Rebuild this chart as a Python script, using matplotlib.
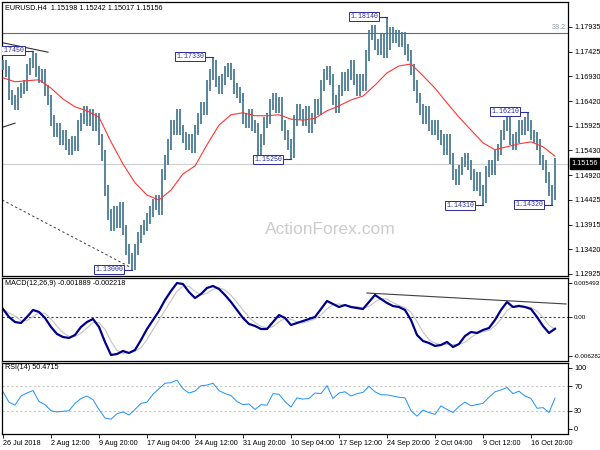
import numpy as np
import pandas as pd
import matplotlib
matplotlib.use('Agg')
import matplotlib.pyplot as plt
import matplotlib.transforms as mtransforms

plt.rcParams['font.family'] = ['Liberation Sans', 'DejaVu Sans']

## EURUSD H4 closes, one value per 2 bars
closes = [
    1.1716, 1.1702, 1.1655, 1.1645, 1.1635, 1.1661, 1.1669, 1.1675, 1.1706, 1.1720,
    1.1730, 1.1702, 1.1690, 1.1696, 1.1665, 1.1645, 1.1604, 1.1580, 1.1588, 1.1564,
    1.1574, 1.1554, 1.1544, 1.1560, 1.1552, 1.1594, 1.1608, 1.1621, 1.1604, 1.1615,
    1.1594, 1.1608, 1.1564, 1.1533, 1.1462, 1.1412, 1.1391, 1.1418, 1.1397, 1.1426,
    1.1381, 1.1341, 1.1324, 1.1310, 1.1341, 1.1365, 1.1381, 1.1391, 1.1405, 1.1418,
    1.1432, 1.1442, 1.1422, 1.1493, 1.1523, 1.1554, 1.1594, 1.1584, 1.1615, 1.1584,
    1.1568, 1.1554, 1.1564, 1.1548, 1.1584, 1.1608, 1.1629, 1.1625, 1.1675, 1.1696,
    1.1716, 1.1682, 1.1669, 1.1686, 1.1702, 1.1710, 1.1696, 1.1669, 1.1661, 1.1649,
    1.1608, 1.1600, 1.1615, 1.1594, 1.1588, 1.1544, 1.1564, 1.1600, 1.1608, 1.1635,
    1.1649, 1.1629, 1.1641, 1.1594, 1.1574, 1.1554, 1.1539, 1.1604, 1.1625, 1.1615,
    1.1604, 1.1621, 1.1588, 1.1608, 1.1635, 1.1625, 1.1675, 1.1696, 1.1702, 1.1686,
    1.1645, 1.1629, 1.1665, 1.1690, 1.1675, 1.1696, 1.1716, 1.1686, 1.1665, 1.1686,
    1.1675, 1.1736, 1.1777, 1.1787, 1.1757, 1.1747, 1.1767, 1.1742, 1.1757, 1.1783,
    1.1771, 1.1777, 1.1763, 1.1771, 1.1747, 1.1736, 1.1706, 1.1675, 1.1649, 1.1625,
    1.1608, 1.1621, 1.1594, 1.1584, 1.1594, 1.1574, 1.1564, 1.1544, 1.1564, 1.1527,
    1.1493, 1.1483, 1.1503, 1.1519, 1.1527, 1.1513, 1.1493, 1.1472, 1.1487, 1.1462,
    1.1446, 1.1499, 1.1513, 1.1503, 1.1533, 1.1544, 1.1574, 1.1594, 1.1604, 1.1564,
    1.1554, 1.1568, 1.1594, 1.1584, 1.1600, 1.1594, 1.1574, 1.1568, 1.1554, 1.1523,
    1.1513, 1.1487, 1.1462, 1.1452, 1.15156]

## red moving average, one value per 8 bars
ma = [
    1.1690, 1.1682, 1.1684, 1.1686, 1.1669, 1.1647, 1.1631, 1.1623, 1.1610, 1.1560,
    1.1515, 1.1477, 1.1452, 1.1442, 1.1462, 1.1495, 1.1511, 1.1554, 1.1594, 1.1615,
    1.1619, 1.1613, 1.1613, 1.1615, 1.1606, 1.1604, 1.1608, 1.1623, 1.1633, 1.1645,
    1.1653, 1.1675, 1.1700, 1.1714, 1.1718, 1.1694, 1.1669, 1.1639, 1.1610, 1.1584,
    1.1558, 1.1544, 1.1550, 1.1556, 1.1560, 1.1550, 1.1531]

## MACD main line (x 1e-3), one value per 4 bars
macd_k = [
    1.30, 0.01, -0.80, -0.96, 0.01, 1.14, 0.82, -0.15, -1.60, -2.73,
    -3.22, -3.38, -2.89, -1.60, -0.80, -0.31, -1.60, -4.02, -6.12, -5.96,
    -5.48, -5.80, -5.31, -3.70, -1.93, -0.48, 0.98, 2.75, 4.20, 5.49,
    5.33, 4.04, 3.07, 3.72, 4.69, 5.01, 4.53, 3.56, 2.43, 1.14,
    -0.15, -1.12, -1.44, -1.93, -1.93, -0.80, 0.33, -0.15, -1.28, -0.96,
    -0.64, -0.31, 0.01, 1.30, 2.59, 2.11, 1.62, 1.94, 1.62, 1.46,
    1.30, 2.43, 3.56, 2.91, 2.27, 1.78, 1.62, 1.14, -0.48, -2.89,
    -3.86, -4.19, -4.67, -4.51, -4.02, -4.83, -4.35, -3.06, -2.41, -2.57,
    -2.09, -1.77, -0.48, 1.14, 2.43, 1.62, 1.78, 1.62, 1.30, 0.01,
    -1.44, -2.57, -1.89]

## RSI(14), one value per 4 bars
rsi = [
    61, 44, 39, 54, 59, 63, 45, 40, 30, 28,
    29, 30, 42, 50, 54, 48, 32, 18, 16, 25,
    28, 23, 32, 42, 44, 57, 66, 75, 76, 80,
    66, 59, 62, 71, 72, 75, 63, 58, 55, 45,
    40, 41, 32, 40, 39, 58, 57, 45, 36, 51,
    49, 50, 59, 58, 71, 50, 59, 61, 54, 58,
    60, 70, 61, 56, 56, 54, 52, 51, 30, 21,
    31, 27, 24, 38, 32, 27, 37, 44, 38, 40,
    42, 52, 61, 64, 68, 58, 62, 54, 50, 34,
    35, 27, 50.47]

## swing labels: (bar, price, kind)
piv_bar = [10, 43, 70, 96, 128, 160, 175, 183]
piv_price = [1.17450, 1.13000, 1.17330, 1.15250, 1.18140, 1.14310, 1.16210, 1.14320]
piv_kind = ['hi', 'lo', 'hi', 'lo', 'hi', 'lo', 'hi', 'lo']

## drawn lines: ((x0, y0), (x1, y1))
trend_top = ((0, 1.1761), (15, 1.1742))
trend_mid = ((-1, 1.1588), (4, 1.1598))
trend_dash = ((-0.3, 1.1442), (42.3, 1.1306))
fib_382 = 1.1781
macd_trend = ((121.3, 0.00388), (187.7, 0.00211))

price_ticks = [1.17935, 1.17425, 1.16930, 1.16420, 1.15925, 1.15430,
               1.14920, 1.14425, 1.13915, 1.13420, 1.12925]
macd_ticks = [0.005493, 0.0, -0.006282]
macd_ticklabels = ['0.005493', '0.00', '-0.006282']
rsi_ticks = [100, 70, 30, 0]
date_labels = ['26 Jul 2018', '2 Aug 12:00', '9 Aug 20:00', '17 Aug 04:00',
               '24 Aug 12:00', '31 Aug 20:00', '10 Sep 04:00', '17 Sep 12:00',
               '24 Sep 20:00', '2 Oct 04:00', '9 Oct 12:00', '16 Oct 20:00']

fs = 5.2
bar_col = '#4a7b95'
lab_col = '#2b2b9e'

fig = plt.figure(figsize=(6, 4.5), dpi=100)
ax1 = fig.add_axes([0.00333, 0.3867, 0.9433, 0.6089])
ax2 = fig.add_axes([0.00333, 0.1978, 0.9433, 0.1844])
ax3 = fig.add_axes([0.00333, 0.03556, 0.9433, 0.1578])

closes = np.array(closes)
n = len(closes)
idx = np.arange(n)
opens = np.r_[closes[0], closes[:-1]]
wick = 0.0011
hi = np.maximum(opens, closes) + wick
lo = np.minimum(opens, closes) - wick
for b, p, k in zip(piv_bar, piv_price, piv_kind):
    if k == 'hi':
        hi[b] = p
    else:
        lo[b] = p

xmin, xmax = -0.33, 188.33

## ---- price panel ----
ax1.axhline(closes[-1], color='#cfcfcf', lw=0.8, zorder=1)
ax1.axhline(fib_382, color='#5f6f6f', lw=0.8, zorder=1)
ax1.vlines(idx, lo, hi, color=bar_col, lw=1.3, zorder=3)
ax1.plot(np.arange(len(ma)) * 4, ma, color='#ff3535', lw=0.8, zorder=4)

for (x0, y0), (x1, y1) in [trend_top, trend_mid]:
    ax1.plot([x0, x1], [y0, y1], color='#303030', lw=0.8, zorder=2)
ax1.plot([trend_dash[0][0], trend_dash[1][0]], [trend_dash[0][1], trend_dash[1][1]],
         color='#404040', lw=0.7, ls=(0, (2.5, 2.5)), zorder=2)

for b, p, k in zip(piv_bar, piv_price, piv_kind):
    ax1.plot([b - 2.7, b], [p, p], color=lab_col, lw=0.8, zorder=5)
    ax1.text(b - 2.9, p, '%.5f' % p, ha='right', va='center', fontsize=4.8,
             family='Liberation Mono', color=lab_col, zorder=6, clip_on=True,
             bbox=dict(boxstyle='square,pad=0.15', fc='white', ec=lab_col, lw=0.7))

blend1 = mtransforms.blended_transform_factory(ax1.transAxes, ax1.transData)
ax1.text(0.997, fib_382 + 0.0003, '38.2', transform=blend1, ha='right', va='bottom',
         fontsize=fs, color='#8a9aa8')
ax1.text(1.006, closes[-1], '%.5f' % closes[-1], transform=blend1, ha='left',
         va='center', fontsize=fs, color='white', clip_on=False, zorder=10,
         bbox=dict(boxstyle='square,pad=0.25', fc='black', ec='black'))

ax1.text(0.006, 0.978, 'EURUSD.H4  1.15198 1.15242 1.15017 1.15156',
         transform=ax1.transAxes, fontsize=fs, va='center', ha='left')
ax1.text(0.581, 0.168, 'ActionForex.com', transform=ax1.transAxes, fontsize=12.5,
         color='#cccccc', ha='center', va='center', zorder=0)

ax1.set_ylim(1.12877, 1.18439)
ax1.set_yticks(price_ticks)
ax1.set_yticklabels(['%.5f' % t for t in price_ticks])

## ---- MACD panel ----
macd = np.array(macd_k) / 1000.0
sig = pd.Series(macd).rolling(3, min_periods=1).mean().values
xm = np.arange(len(macd)) * 2
ax2.axhline(0, color='#404040', lw=0.8, ls=(0, (2, 2)))
ax2.plot(xm, sig, color='#c4c4c4', lw=0.8)
ax2.plot(xm, macd, color='#00008b', lw=1.6)
ax2.plot([macd_trend[0][0], macd_trend[1][0]], [macd_trend[0][1], macd_trend[1][1]],
         color='#404040', lw=0.8)
ax2.text(0.006, 0.93, 'MACD(12,26,9) -0.001889 -0.002218', transform=ax2.transAxes,
         fontsize=fs, va='center', ha='left')
ax2.set_ylim(-0.00709, 0.00630)
ax2.set_yticks(macd_ticks)
ax2.set_yticklabels(macd_ticklabels)

## ---- RSI panel ----
xr = np.arange(len(rsi)) * 2
for lvl in [70, 30]:
    ax3.axhline(lvl, color='#c8c8c8', lw=0.8, ls=(0, (2, 2)))
ax3.plot(xr, rsi, color='#1e90ff', lw=0.7)
ax3.text(0.006, 0.93, 'RSI(14) 50.4715', transform=ax3.transAxes,
         fontsize=fs, va='center', ha='left')
ax3.set_ylim(-8.2, 108.2)
ax3.set_yticks(rsi_ticks)

ax3.set_xticks(np.arange(0, n, 16))
ax3.set_xticklabels(date_labels)
for lbl in ax3.get_xticklabels():
    lbl.set_ha('left')

for ax in [ax1, ax2, ax3]:
    ax.set_xlim(xmin, xmax)
    ax.yaxis.tick_right()
    ax.tick_params(axis='y', labelsize=fs, length=3, width=0.6, pad=1.5)
    for s in ax.spines.values():
        s.set_linewidth(0.9)
        s.set_color('black')
for ax in [ax1, ax2]:
    ax.set_xticks([])
ax2.tick_params(axis='y', labelsize=4.5, pad=1.0)
ax3.tick_params(axis='x', labelsize=fs, length=3, width=0.6, pad=1.5)

fig.savefig('out.png', dpi=100)
